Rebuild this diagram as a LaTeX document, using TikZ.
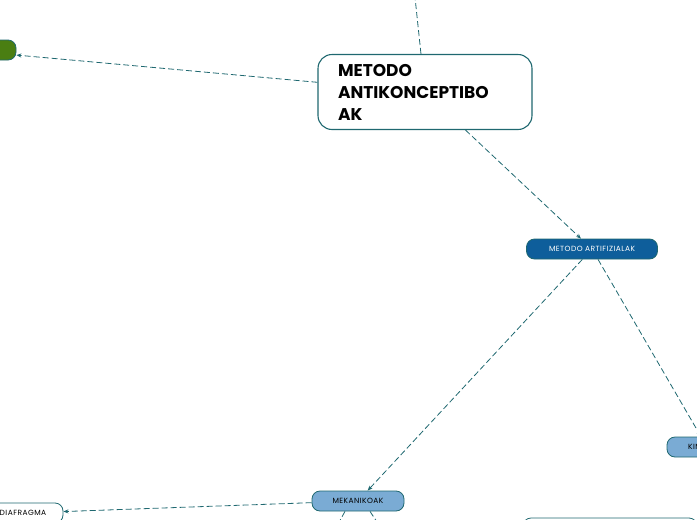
\documentclass[tikz,border=0pt]{standalone}
\usepackage{fontspec}
\setmainfont{Poppins}
\newfontfamily\mapsmall[LetterSpace=6]{Poppins}
\usetikzlibrary{arrows.meta, positioning}
\definecolor{mapteal}{RGB}{31,104,112}
\definecolor{artblue}{RGB}{14,94,155}
\definecolor{lightblue}{RGB}{122,171,212}
\definecolor{leafgreen}{RGB}{74,126,18}

\begin{document}
\begin{tikzpicture}[x=1pt, y=-1pt]
            \tikzstyle{central} = [rectangle, rounded corners=14pt, draw=mapteal, line width=1.1pt, fill=white, minimum width=214pt, minimum height=75pt, text width=174pt, inner xsep=20pt, align=left, font=\fontsize{17}{22}\selectfont\bfseries]
            \tikzstyle{pill} = [rectangle, rounded corners=8pt, draw=mapteal, line width=0.8pt, minimum height=20pt, inner xsep=12pt, font=\mapsmall\fontsize{7.5}{9}\selectfont]
            \tikzstyle{link} = [mapteal, line width=0.8pt, dash pattern=on 6pt off 3pt, -{Stealth[length=5pt, width=4pt]}]

            \useasboundingbox (0,0) rectangle (697,520);
            \clip (0,0) rectangle (697,520);

            \node[central] (meto) at (425,92) {METODO\\ANTIKONCEPTIBO\\AK};
            \node[pill, fill=leafgreen, minimum width=112pt] (natural) at (-40,50) {};
            \node[pill, fill=artblue, text=white, minimum width=131pt] (art) at (592,249) {METODO ARTIFIZIALAK};
            \node[pill, fill=lightblue, minimum width=92pt] (mek) at (358,501) {MEKANIKOAK};
            \node[pill, fill=lightblue, minimum width=80pt] (kim) at (707,447) {KIMIKOAK};
            \node[pill, fill=white, minimum width=80pt] (dia) at (23,513) {DIAFRAGMA};
            \node[pill, fill=white, minimum width=174pt, minimum height=54pt] (other) at (610,545) {};

            \coordinate (up) at (410,-50);
            \coordinate (mekleft) at (296,600);
            \coordinate (mekright) at (429,600);

            \draw[link] (meto) -- (up);
            \draw[link] (meto) -- (natural);
            \draw[link] (meto) -- (art);
            \draw[link] (art) -- (mek);
            \draw[link] (art) -- (kim);
            \draw[link] (mek) -- (dia);
            \draw[link] ([xshift=-13pt]mek.south) -- (mekleft);
            \draw[link] ([xshift=12pt]mek.south) -- (mekright);
        \end{tikzpicture}
\end{document}
